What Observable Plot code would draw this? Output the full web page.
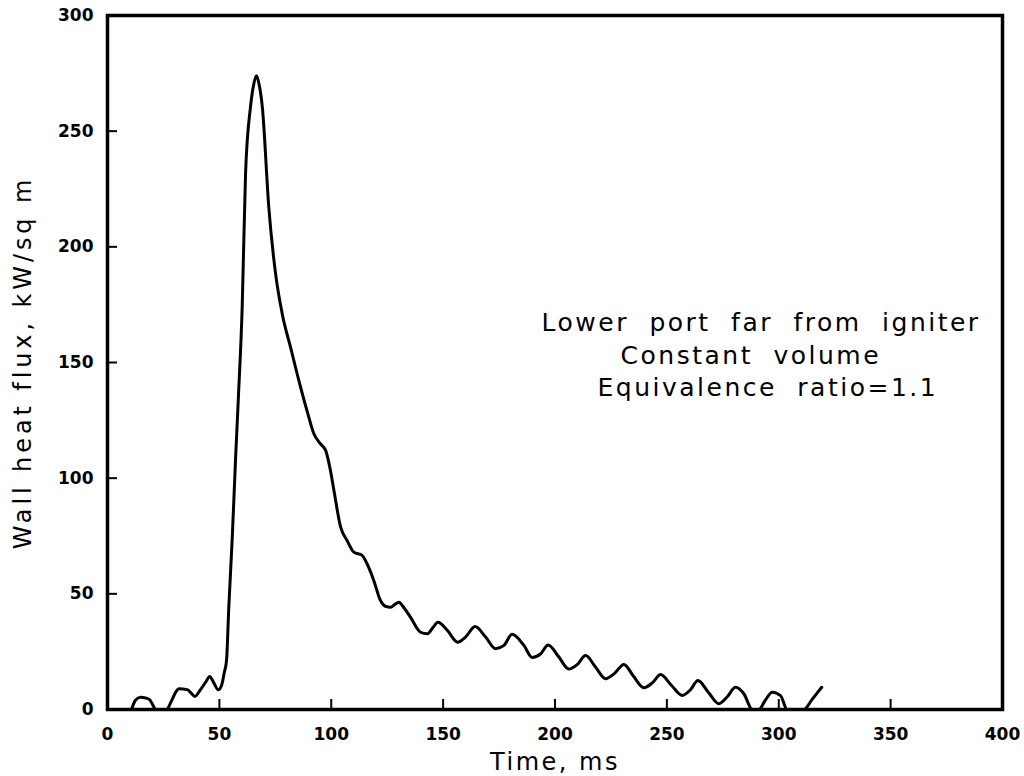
<!DOCTYPE html>
<html>
<head>
<meta charset="utf-8">
<script src="https://cdn.jsdelivr.net/npm/d3@7"></script>
<script src="https://cdn.jsdelivr.net/npm/@observablehq/plot@0.6"></script>
<style>
  html, body { margin: 0; padding: 0; background: #fff; }
  #chart { width: 1024px; height: 776px; }
</style>
</head>
<body>
<div id="chart"></div>
<script>
// Time, ms
const time = [10.7, 12.5, 14.7, 17, 18.8, 20.5, 21.5, 26.3, 28.5, 30.5, 31.9, 35.6, 37.5, 39, 41.5, 44, 45.7, 47.5, 49.5, 51, 52.2, 53.2, 54.2, 55.7, 57.2, 58.5, 60.2, 61.7, 63.9, 65.3, 66.6, 67.8, 69.2, 72.1, 75.1, 78.1, 81.8, 86.3, 89.5, 92.2, 95, 97.5, 99.5, 101.2, 104.2, 107.1, 110.1, 113.8, 116, 119, 122, 124.5, 126.5, 128.5, 130.2, 132.5, 135.4, 139.9, 142.9, 145.5, 147.7, 151.9, 156.5, 160, 164.3, 169, 173.4, 177.2, 180.8, 186.1, 189.8, 193.5, 197, 201.5, 206.2, 210, 213.7, 218, 222.6, 226.5, 230.8, 235, 239.7, 243.5, 247.2, 252, 256.9, 260.5, 263.9, 268.5, 273.3, 277, 280.7, 284.4, 288.2, 291.1, 294, 297.1, 300.8, 303.8, 311.2, 315, 319.2];
// Wall heat flux, kW/sq m
const flux = [0, 4, 5.3, 5, 4.3, 1.5, 0, 0, 3.5, 7.5, 9, 8.6, 7, 5.6, 8.5, 12, 14.3, 11.5, 8.5, 10.5, 16, 21.2, 44, 73, 107.6, 135, 174, 231.7, 260.4, 270, 274, 270, 260.4, 217, 188.5, 171, 156.6, 139.3, 128, 119.3, 115, 112, 104, 94.7, 78.8, 73, 68, 66.6, 63, 55.8, 47.1, 44.5, 44.2, 45.5, 46.4, 44, 39.9, 33.4, 32.7, 35.5, 37.7, 34.2, 29.1, 31.3, 35.9, 31.3, 26.3, 27.7, 32.5, 27.7, 22.5, 24, 27.9, 23, 17.5, 19.5, 23.3, 18.5, 13.3, 15.5, 19.5, 14.5, 9.4, 11.5, 15.1, 10.5, 6.1, 8.5, 12.5, 7.5, 2.5, 5.5, 9.6, 6.8, 0, 0, 4, 7.5, 6, 0, 0, 4.5, 9.6];

const xTicks = [0, 50, 100, 150, 200, 250, 300, 350, 400];
const yTicks = [0, 50, 100, 150, 200, 250, 300];

const xLabel = "Time, ms";
const yLabel = "Wall heat flux, kW/sq m";
const noteLines = ["Lower port far from igniter", "Constant volume", "Equivalence ratio=1.1"];
const noteTime = [194, 229.3, 219];
const noteFlux = [166.9, 152.6, 138.8];

const series = time.map((t, i) => ({t, q: flux[i]}));
const notes = noteLines.map((s, i) => ({s, t: noteTime[i], q: noteFlux[i]}));

const font = "'DejaVu Sans', sans-serif";
const W = 1024, H = 776, ML = 107, MR = 22, MT = 15, MB = 67;
const tickLen = 10;

const chart = Plot.plot({
  width: W,
  height: H,
  marginLeft: ML,
  marginRight: MR,
  marginTop: MT,
  marginBottom: MB,
  style: {fontFamily: font, background: "#fff", color: "#000"},
  x: {domain: [0, 400]},
  y: {domain: [0, 300]},
  marks: [
    Plot.axisX(xTicks, {tickSize: 0, tickPadding: 18, fontSize: 17, fontWeight: "bold", label: null}),
    Plot.axisY(yTicks, {tickSize: 0, tickPadding: 14, fontSize: 17, fontWeight: "bold", label: null}),
    Plot.ruleX(xTicks, {stroke: "#000", strokeWidth: 2, insetTop: (H - MT - MB) - tickLen}),
    Plot.ruleY(yTicks, {stroke: "#000", strokeWidth: 2, insetRight: (W - ML - MR) - tickLen}),
    Plot.line(series, {x: "t", y: "q", stroke: "#000", strokeWidth: 3, curve: "monotone-x"}),
    Plot.frame({stroke: "#000", strokeWidth: 3.5}),
    Plot.text(notes, {x: "t", y: "q", text: "s", textAnchor: "start", lineAnchor: "middle", fontSize: 25, fill: "#000"}),
    Plot.text([xLabel], {frameAnchor: "bottom", dy: 53, textAnchor: "middle", lineAnchor: "middle", fontSize: 24, fill: "#000"}),
    Plot.text([yLabel], {frameAnchor: "left", dx: -84, rotate: -90, textAnchor: "middle", lineAnchor: "middle", fontSize: 24, fill: "#000"})
  ]
});

const spacing = new Map([[xLabel, ["2.5px", null]], [yLabel, ["3.9px", null]]]);
noteLines.forEach(s => spacing.set(s, ["2.5px", "10px"]));
d3.select(chart).selectAll("text").each(function () {
  const s = spacing.get(this.textContent);
  if (s) {
    this.setAttribute("letter-spacing", s[0]);
    if (s[1]) this.setAttribute("word-spacing", s[1]);
  }
});

document.getElementById("chart").appendChild(chart);
</script>
</body>
</html>
